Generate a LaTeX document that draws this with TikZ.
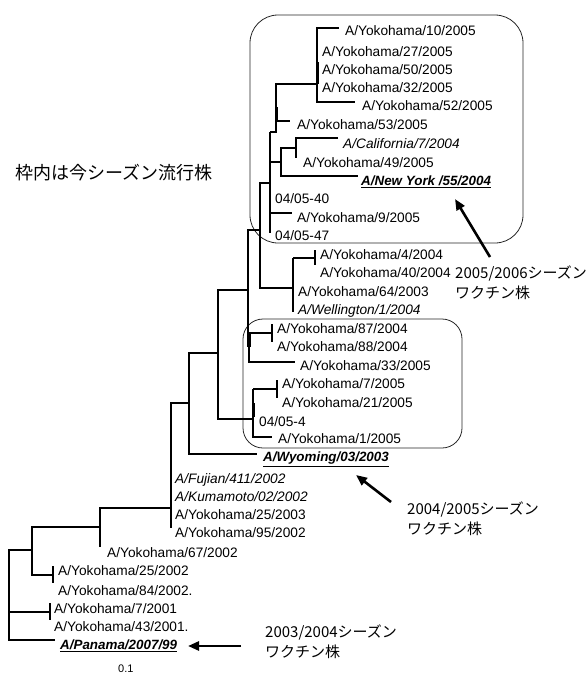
\documentclass[tikz,border=0pt]{standalone}
\usepackage{fontspec}
\setmainfont{Liberation Sans}
\newfontfamily\jp{Noto Sans CJK JP}
\usetikzlibrary{arrows.meta}
\begin{document}
\begin{tikzpicture}[x=1pt,y=-1pt,
  br/.style={line width=1.4pt},
  thk/.style={line width=3pt},
  lab/.style={anchor=base west, inner sep=0pt, font=\fontsize{13.7}{16}\selectfont},
  itl/.style={lab, font=\fontsize{13.7}{16}\selectfont\itshape},
  vac/.style={lab, font=\fontsize{13.4}{16}\selectfont\bfseries\itshape},
  frame/.style={draw=black!85, line width=0.8pt},
  bigarrow/.style={line width=2.6pt, -{Triangle[length=11pt,width=9pt]}},
  note/.style={anchor=west, inner sep=0pt, align=left, font=\jp\fontsize{15}{20}\selectfont}
]
\useasboundingbox (0,0) rectangle (588,675);

% frames
\draw[frame, rounded corners=28pt] (250,15) rectangle (523,243);
\draw[frame, rounded corners=20pt] (243,319) rectangle (462,448);

% ---- tree branches ----
% clade 10..52
\draw[br] (339,28) -- (317,28) -- (317,102) -- (355,102);
\draw[thk] (317.5,62) -- (317.5,84);
\draw[br] (317,84) -- (276,84) -- (276,132) -- (270,132);
\draw[thk] (276.5,107) -- (276.5,121);
\draw[br] (276,121) -- (290,121);
% California / NewYork
\draw[br] (338,138) -- (296,138) -- (296,158);
\draw[br] (296,148) -- (281,148) -- (281,176) -- (358,176);
\draw[br] (281,162) -- (270,162);
% backbone in frame 1
\draw[br] (270,132) -- (270,233);
\draw[br] (270,213) -- (292,213);
\draw[br] (270,183) -- (260,183) -- (260,288) -- (293,288);
% Yokohama 4 clade
\draw[br] (293,258) -- (293,312);
\draw[br] (293,258) -- (315,258);
\draw[br] (315,250) -- (315,265);
% connection
\draw[br] (260,230) -- (248,230) -- (248,347);
\draw[thk] (249,333) -- (249,347);
\draw[br] (248,333) -- (250,333) -- (272,333);
\draw[br] (272,324) -- (272,342);
\draw[br] (249,340) -- (249,362) -- (295,362);
\draw[br] (248,290) -- (218,290) -- (218,419) -- (253,419);
% frame 2 lower
\draw[br] (253,389) -- (253,437) -- (272,437);
\draw[thk] (253.5,403) -- (253.5,417);
\draw[br] (253,389) -- (277,389);
\draw[br] (277,380) -- (277,398);
% deeper
\draw[br] (218,353) -- (189,353) -- (189,454) -- (257,454);
\draw[br] (189,403) -- (171,403) -- (171,528);
\draw[br] (171,508) -- (100,508) -- (100,547);
\draw[br] (100,527) -- (32,527) -- (32,575) -- (53,575);
\draw[br] (53,566) -- (53,583);
\draw[br] (32,550) -- (9,550) -- (9,640) -- (55,640);
\draw[br] (9,612) -- (50,612);
\draw[br] (50,603) -- (50,620);

% ---- labels ----
\node[lab] (t10) at (345,35.9) {A/Yokohama/10/2005};
\node[lab] (t27) at (322,56.9) {A/Yokohama/27/2005};
\node[lab] (t50) at (322,74.9) {A/Yokohama/50/2005};
\node[lab] (t32) at (322,92.9) {A/Yokohama/32/2005};
\node[lab] (t52) at (362,110.9) {A/Yokohama/52/2005};
\node[lab] (t53) at (297,129.4) {A/Yokohama/53/2005};
\node[itl] (tca) at (343,148.4) {A/California/7/2004};
\node[lab] (t49) at (303,167.9) {A/Yokohama/49/2005};
\node[vac] (tny) at (361,185.4) {\underline{A/New York /55/2004}};
\node[lab] (t40a) at (275,203.9) {04/05-40};
\node[lab] (t9) at (297,222.9) {A/Yokohama/9/2005};
\node[lab] (t47) at (275,240.9) {04/05-47};
\node[lab] (t4) at (320,259.9) {A/Yokohama/4/2004};
\node[lab] (t40) at (320,277.9) {A/Yokohama/40/2004};
\node[lab] (t64) at (298,296.9) {A/Yokohama/64/2003};
\node[itl] (twe) at (298,314.9) {A/Wellington/1/2004};
\node[lab] (t87) at (277,333.9) {A/Yokohama/87/2004};
\node[lab] (t88) at (277,351.9) {A/Yokohama/88/2004};
\node[lab] (t33) at (300,370.9) {A/Yokohama/33/2005};
\node[lab] (t7) at (282,388.9) {A/Yokohama/7/2005};
\node[lab] (t21) at (282,407.9) {A/Yokohama/21/2005};
\node[lab] (t4b) at (259,426.9) {04/05-4};
\node[lab] (t1) at (278,443.9) {A/Yokohama/1/2005};
\node[vac] (twy) at (263,461.9) {\underline{A/Wyoming/03/2003}};
\node[itl] (tfu) at (175,483.4) {A/Fujian/411/2002};
\node[itl] (tku) at (175,501.9) {A/Kumamoto/02/2002};
\node[lab] (t25c) at (175,519.9) {A/Yokohama/25/2003};
\node[lab] (t95) at (175,537.9) {A/Yokohama/95/2002};
\node[lab] (t67) at (107,557.9) {A/Yokohama/67/2002};
\node[lab] (t25b) at (58,575.9) {A/Yokohama/25/2002};
\node[lab] (t84) at (58,595.9) {A/Yokohama/84/2002.};
\node[lab] (t7a) at (54,613.9) {A/Yokohama/7/2001};
\node[lab] (t43) at (54,631.9) {A/Yokohama/43/2001.};
\node[vac] (tpa) at (60,649.9) {\underline{A/Panama/2007/99}};
\node[lab, font=\fontsize{11}{13}\selectfont] (scale) at (118,672) {0.1};

% ---- notes ----
\node[anchor=west, inner sep=0pt, font=\jp\fontsize{18}{22}\selectfont] (title) at (15,173) {枠内は今シーズン流行株};
\node[note] (n1) at (455,283) {2005/2006シーズン\\ワクチン株};
\node[note] (n2) at (407,519) {2004/2005シーズン\\ワクチン株};
\node[note] (n3) at (265,642) {2003/2004シーズン\\ワクチン株};

% ---- arrows ----
\coordinate (a1t) at (490,257);
\coordinate (a1h) at (455,199);
\coordinate (a2t) at (391,502);
\coordinate (a2h) at (356,475);
\coordinate (a3t) at (241,646);
\coordinate (a3h) at (188,646);
\draw[bigarrow] (a1t) -- (a1h);
\draw[bigarrow] (a2t) -- (a2h);
\draw[bigarrow] (a3t) -- (a3h);
\end{tikzpicture}
\end{document}
